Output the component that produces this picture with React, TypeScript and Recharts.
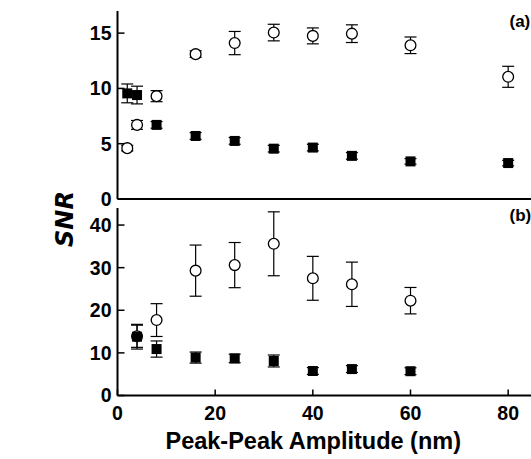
import { ScatterChart, Scatter, XAxis, YAxis, ErrorBar, Label } from "recharts"

// panel (a)
const amplitudeA = [2, 4, 8, 16, 24, 32, 40, 48, 60, 80]
const openA = [4.6, 6.7, 9.3, 13.1, 14.1, 15.05, 14.75, 14.95, 13.9, 11.05]
const openErrA = [0.25, 0.4, 0.5, 0.3, 1.05, 0.75, 0.72, 0.8, 0.75, 0.95]
const filledA = [9.55, 9.4, 6.7, 5.7, 5.25, 4.55, 4.65, 3.9, 3.4, 3.25]
const filledErrA = [0.85, 0.8, 0.3, 0.3, 0.3, 0.3, 0.3, 0.3, 0.25, 0.25]

// panel (b)
const amplitudeB = [4, 8, 16, 24, 32, 40, 48, 60]
const openB = [13.9, 17.7, 29.3, 30.6, 35.6, 27.5, 26.1, 22.25]
const openErrB = [2.6, 3.85, 6, 5.3, 7.5, 5.15, 5.2, 3.1]
const filledB = [13.8, 10.9, 8.9, 8.7, 8.1, 5.75, 6.2, 5.7]
const filledErrB = [2.9, 1.9, 1.3, 1.0, 1.4, 0.8, 0.8, 0.8]

const xMajorTicks = [0, 20, 40, 60, 80]
const xMinorTicks = [10, 30, 50, 70, 90]
const yMajorTicksA = [0, 5, 10, 15]
const yMinorTicksA = [0, 1, 2, 3, 4, 5, 6, 7, 8, 9, 10, 11, 12, 13, 14, 15, 16, 17]
const yMajorTicksB = [0, 10, 20, 30, 40]
const yMinorTicksB = [0, 2, 4, 6, 8, 10, 12, 14, 16, 18, 20, 22, 24, 26, 28, 30, 32, 34, 36, 38, 40, 42, 44]

const toPoints = (xs: number[], ys: number[], es: number[]) =>
  xs.map((x, i) => ({ x, y: ys[i], err: es[i] }))

const tickFont = { fontFamily: "Liberation Sans", fontWeight: 700, fontSize: 19.5, fill: "#000" }
const axisLine = { stroke: "#000", strokeWidth: 2 }
const tickLine = { stroke: "#000", strokeWidth: 1.5 }
const panelTag = { fontFamily: "Liberation Sans", fontWeight: 700, fontSize: 17 }

const OpenCircle = (props: any) => (
  <circle cx={props.cx} cy={props.cy} r={5.4} fill="#fff" stroke="#000" strokeWidth={1.3} />
)
const FilledSquare = (props: any) => (
  <rect x={props.cx - 5} y={props.cy - 5} width={10} height={10} fill="#000" />
)

interface PanelProps {
  open: { x: number; y: number; err: number }[]
  filled: { x: number; y: number; err: number }[]
  yMax: number
  yMajor: number[]
  yMinor: number[]
  height: number
  marginTop: number
  axisHeight: number
  showXLabels: boolean
}

function Panel({ open, filled, yMax, yMajor, yMinor, height, marginTop, axisHeight, showXLabels }: PanelProps) {
  return (
    <ScatterChart width={549} height={height} margin={{ top: marginTop, right: 0, bottom: 0, left: 49.5 }}>
      <XAxis xAxisId="minorBottom" type="number" dataKey="x" domain={[0, 90]} allowDataOverflow ticks={xMinorTicks}
        interval={0} height={0} tickSize={-3} tickLine={tickLine} axisLine={false} tick={false} />
      <XAxis xAxisId="main" type="number" dataKey="x" domain={[0, 90]} allowDataOverflow ticks={xMajorTicks}
        interval={0} height={axisHeight} tickSize={-6} tickMargin={17} tickLine={tickLine} axisLine={axisLine}
        tick={showXLabels ? tickFont : false}>
        {showXLabels && (
          <Label value="Peak-Peak Amplitude (nm)" position="insideBottom" offset={7} dx={-24}
            style={{ fontFamily: "Liberation Sans", fontWeight: 700, fontSize: 23.5, fill: "#000" }} />
        )}
      </XAxis>
      <XAxis xAxisId="minorTop" orientation="top" type="number" domain={[0, 90]} allowDataOverflow ticks={xMinorTicks}
        interval={0} height={0} tickSize={-3} tickLine={tickLine} axisLine={false} tick={false} />
      <XAxis xAxisId="top" orientation="top" type="number" domain={[0, 90]} allowDataOverflow ticks={xMajorTicks}
        interval={0} height={0} tickSize={-6} tickLine={tickLine} axisLine={axisLine} tick={false} />
      <YAxis yAxisId="minor" type="number" domain={[0, yMax]} allowDataOverflow ticks={yMinor} interval={0}
        width={0} tickSize={-4} tickLine={tickLine} axisLine={false} tick={false} />
      <YAxis yAxisId="main" type="number" dataKey="y" domain={[0, yMax]} allowDataOverflow ticks={yMajor} interval={0}
        width={60} tickSize={-7} tickMargin={13} tickLine={tickLine} axisLine={axisLine} tick={tickFont} />
      <Scatter data={open} xAxisId="main" yAxisId="main" shape={OpenCircle} isAnimationActive={false}>
        <ErrorBar dataKey="err" direction="y" width={6} stroke="#000" strokeWidth={1.2} isAnimationActive={false} />
      </Scatter>
      <Scatter data={filled} xAxisId="main" yAxisId="main" shape={FilledSquare} isAnimationActive={false}>
        <ErrorBar dataKey="err" direction="y" width={6} stroke="#000" strokeWidth={1.2} isAnimationActive={false} />
      </Scatter>
    </ScatterChart>
  )
}

export default function App() {
  return (
    <div style={{ position: "absolute", left: 8, top: 8, width: 523, height: 451, overflow: "hidden", background: "#fff" }}>
      <div style={{ position: "absolute", left: 0, top: 0 }}>
        <Panel open={toPoints(amplitudeA, openA, openErrA)} filled={toPoints(amplitudeA, filledA, filledErrA)}
          yMax={17} yMajor={yMajorTicksA} yMinor={yMinorTicksA} height={201} marginTop={3} axisHeight={10}
          showXLabels={false} />
      </div>
      <div style={{ position: "absolute", left: 0, top: 190 }}>
        <Panel open={toPoints(amplitudeB, openB, openErrB)} filled={toPoints(amplitudeB, filledB, filledErrB)}
          yMax={44} yMajor={yMajorTicksB} yMinor={yMinorTicksB} height={257.5} marginTop={10} axisHeight={60}
          showXLabels />
      </div>
      <svg width={523} height={451} style={{ position: "absolute", left: 0, top: 0, pointerEvents: "none" }}>
        <text x={57} y={211} transform="rotate(-90 57 211)" textAnchor="middle" dominantBaseline="central"
          style={{ fontFamily: "DejaVu Sans", fontWeight: 700, fontStyle: "italic", fontSize: 24 }}>SNR</text>
        <text x={501.5} y={18.5} style={panelTag}>(a)</text>
        <text x={501.5} y={212.7} style={panelTag}>(b)</text>
      </svg>
    </div>
  )
}
